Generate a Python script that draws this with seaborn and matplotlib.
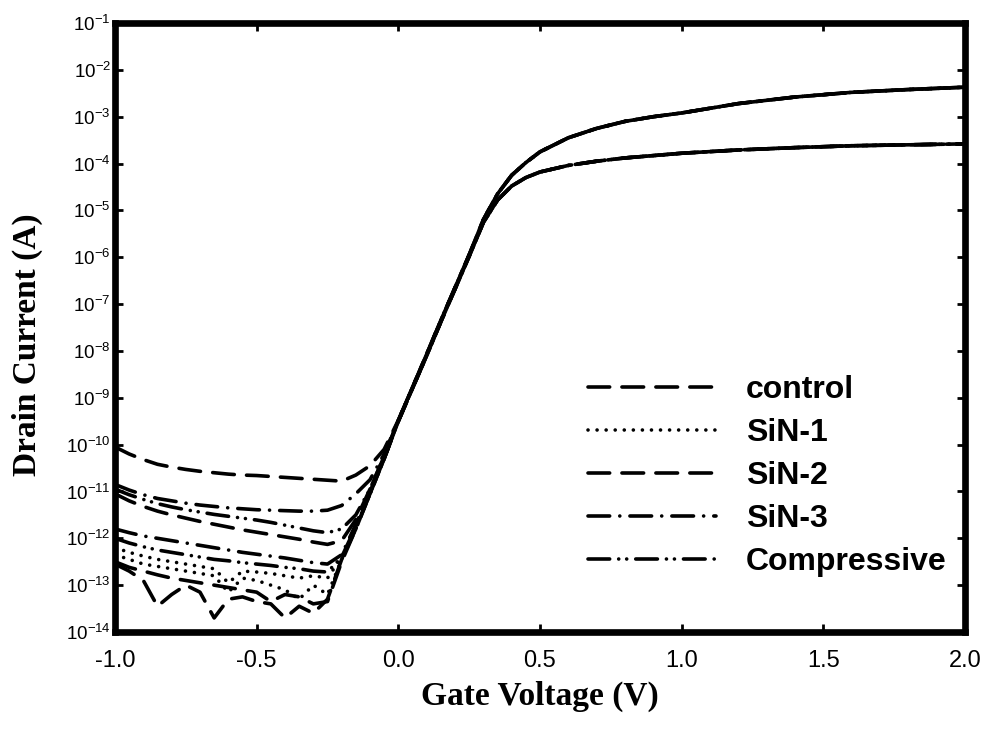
import numpy as np
import seaborn as sns
import matplotlib.pyplot as plt
from matplotlib.ticker import LogLocator, NullLocator, FixedLocator, FormatStrFormatter

sns.set_style('ticks')
plt.rcParams['font.family'] = ['Liberation Sans', 'DejaVu Sans']
plt.rcParams['axes.unicode_minus'] = False
for k in ['text.color', 'axes.labelcolor', 'xtick.color', 'ytick.color', 'axes.edgecolor']:
    plt.rcParams[k] = 'black'

# gate voltage grid (V)
gate_v = [-1.0, -0.95, -0.9, -0.85, -0.8, -0.75, -0.7, -0.65, -0.6, -0.55,
          -0.5, -0.45, -0.4, -0.35, -0.3, -0.25, -0.2, -0.15, -0.1, -0.05,
          0.0, 0.05, 0.1, 0.15, 0.2, 0.25, 0.3, 0.35, 0.4, 0.45, 0.5,
          0.6, 0.7, 0.8, 0.9, 1.0, 1.2, 1.4, 1.6, 1.8, 2.0]

# log10(Id) in the off region, Vg = -1.0 ... -0.05
control_hi_off = [-10.05, -10.2, -10.32, -10.42, -10.48, -10.53, -10.57, -10.6, -10.63, -10.65,
                  -10.66, -10.68, -10.7, -10.72, -10.74, -10.76, -10.78, -10.65, -10.45, -10.1]
sin3_hi_off = [-10.85, -10.97, -11.07, -11.15, -11.2, -11.25, -11.29, -11.32, -11.35, -11.37,
               -11.39, -11.4, -11.41, -11.42, -11.42, -11.4, -11.3, -11.05, -10.75, -10.2]
comp_hi_off = [-10.95, -11.07, -11.17, -11.26, -11.33, -11.39, -11.44, -11.49, -11.53, -11.57,
               -11.61, -11.66, -11.72, -11.78, -11.84, -11.88, -11.8, -11.5, -10.95, -10.25]
sin2_hi_off = [-11.05, -11.2, -11.32, -11.42, -11.5, -11.57, -11.64, -11.7, -11.76, -11.82,
               -11.87, -11.92, -11.97, -12.02, -12.08, -12.13, -12.05, -11.6, -10.95, -10.25]
sin3_lo_off = [-11.8, -11.88, -11.95, -12.0, -12.05, -12.1, -12.15, -12.2, -12.25, -12.3,
               -12.34, -12.38, -12.42, -12.47, -12.52, -12.55, -12.35, -11.7, -11.0, -10.3]
comp_lo_off = [-12.0, -12.1, -12.18, -12.25, -12.3, -12.35, -12.4, -12.45, -12.48, -12.52,
               -12.55, -12.58, -12.62, -12.65, -12.7, -12.72, -12.4, -11.75, -11.05, -10.3]
sin1_hi_off = [-12.2, -12.3, -12.38, -12.45, -12.5, -12.55, -12.6, -12.65, -12.95, -12.7,
               -12.72, -12.75, -12.8, -12.85, -12.8, -12.85, -12.4, -11.75, -11.05, -10.3]
control_lo_off = [-12.55, -12.7, -12.9, -13.45, -13.2, -13.0, -13.15, -13.7, -13.3, -13.25,
                  -13.35, -13.4, -13.7, -13.45, -13.6, -13.3, -12.45, -11.8, -11.05, -10.3]
sin1_lo_off = [-12.35, -12.45, -12.55, -12.6, -12.65, -12.7, -12.75, -12.8, -13.15, -12.85,
               -12.9, -13.0, -13.1, -13.3, -13.0, -13.2, -12.45, -11.8, -11.05, -10.3]
sin2_lo_off = [-12.5, -12.62, -12.7, -12.78, -12.85, -12.9, -12.95, -13.0, -13.05, -13.1,
               -13.15, -13.35, -13.2, -13.25, -13.4, -13.35, -12.5, -11.8, -11.05, -10.3]

# log10(Id) in the on region, Vg = 0.0 ... 2.0 (high / low drain bias)
on_hi = [-9.48, -8.78, -8.07, -7.35, -6.65, -5.95, -5.2, -4.65, -4.25, -3.98, -3.75,
         -3.45, -3.25, -3.1, -3.0, -2.92, -2.72, -2.58, -2.48, -2.42, -2.37]
on_lo = [-9.5, -8.8, -8.1, -7.38, -6.68, -5.98, -5.26, -4.78, -4.48, -4.3, -4.18,
         -4.04, -3.95, -3.88, -3.83, -3.78, -3.71, -3.66, -3.62, -3.6, -3.58]

devices = ['control', 'SiN-1', 'SiN-2', 'SiN-3', 'Compressive']
# dash patterns in linewidth units (round caps)
styles = {
    'control': (6, 3.4),
    'SiN-1': (0.01, 2.5),
    'SiN-2': (6, 3.4),
    'SiN-3': (6, 2.8, 0.01, 2.8),
    'Compressive': (6, 2.5, 0.01, 2.2, 0.01, 2.5),
}
hi_off = {'control': control_hi_off, 'SiN-1': sin1_hi_off, 'SiN-2': sin2_hi_off,
          'SiN-3': sin3_hi_off, 'Compressive': comp_hi_off}
lo_off = {'control': control_lo_off, 'SiN-1': sin1_lo_off, 'SiN-2': sin2_lo_off,
          'SiN-3': sin3_lo_off, 'Compressive': comp_lo_off}

fig = plt.figure(figsize=(9.88, 7.33), dpi=100)
ax = fig.add_axes([0.1164, 0.1378, 0.8603, 0.8308])

for dev in devices:
    sns.lineplot(x=gate_v, y=10 ** np.array(hi_off[dev] + on_hi), ax=ax, color='black',
                 lw=2.6, linestyle=(0, styles[dev]), dash_capstyle='round', label=dev)
for dev in devices:
    sns.lineplot(x=gate_v, y=10 ** np.array(lo_off[dev] + on_lo), ax=ax, color='black',
                 lw=2.6, linestyle=(0, styles[dev]), dash_capstyle='round', label='_nolegend_')

ax.set_yscale('log')
ax.set_xlim(-1.0, 2.0)
ax.set_ylim(1e-14, 1e-1)
ax.yaxis.set_major_locator(LogLocator(base=10, numticks=20))
ax.yaxis.set_minor_locator(NullLocator())
ax.xaxis.set_major_locator(FixedLocator([-1.0, -0.5, 0.0, 0.5, 1.0, 1.5, 2.0]))
ax.xaxis.set_major_formatter(FormatStrFormatter('%.1f'))

for sp in ax.spines.values():
    sp.set_linewidth(4.8)
    sp.set_color('black')
ax.tick_params(which='major', direction='in', length=6, width=2, top=True, right=True, colors='black')
ax.tick_params(axis='x', labelsize=17, pad=13)
ax.tick_params(axis='y', labelsize=13.5, pad=3)

ax.set_xlabel('Gate Voltage (V)', family='Liberation Serif', weight='bold', fontsize=24)
ax.set_ylabel('Drain Current (A)', family='Liberation Serif', weight='bold', fontsize=24)
ax.xaxis.set_label_coords(0.5, -0.08)
ax.yaxis.set_label_coords(-0.085, 0.471)

ax.legend(loc='upper left', bbox_to_anchor=(588 / 988, 1 - 375 / 733), bbox_transform=fig.transFigure,
          frameon=False, prop=dict(family='Liberation Sans', weight='bold', size=23),
          handlelength=4.0, handletextpad=0.95, labelspacing=0.41, borderpad=0, borderaxespad=0)

fig.savefig('out.png', dpi=100)
